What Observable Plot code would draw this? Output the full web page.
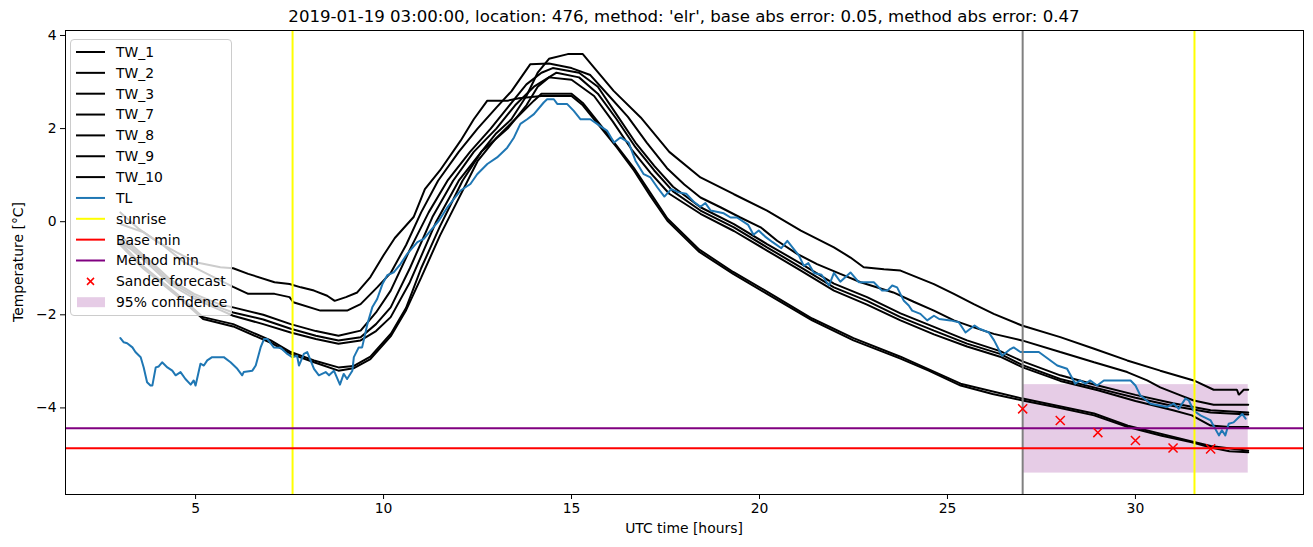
<!DOCTYPE html>
<html>
<head>
<meta charset="utf-8">
<script src="https://cdn.jsdelivr.net/npm/d3@7"></script>
<script src="https://cdn.jsdelivr.net/npm/@observablehq/plot@0.6"></script>
<style>
  body { margin: 0; background: #fff; font-family: "DejaVu Sans", sans-serif; }
  #wrap { position: relative; width: 1313px; height: 547px; overflow: hidden; background: #fff; }
  #title { position: absolute; left: 65px; width: 1238px; top: 7px; text-align: center; font-size: 16.6px; color: #000; white-space: nowrap; }
  #xlabel { position: absolute; left: 65px; width: 1238px; top: 520px; text-align: center; font-size: 13.9px; }
  #ylabel { position: absolute; left: 18px; top: 262px; transform: translate(-50%, -50%) rotate(-90deg); font-size: 13.9px; white-space: nowrap; }
  #legend { position: absolute; left: 70px; top: 39px; width: 162px; height: 277px; border: 1px solid #cccccc; border-radius: 4px; background: rgba(255,255,255,0.8); box-sizing: border-box; }
  #legend svg { position: absolute; left: 0; top: 0; }
</style>
</head>
<body>
<div id="wrap">
  <div id="chart"></div>
  <div id="title"></div>
  <div id="xlabel"></div>
  <div id="ylabel"></div>
  <div id="legend"></div>
</div>
<script>
// ---------- data ----------
const titleText = "2019-01-19 03:00:00, location: 476, method: 'elr', base abs error: 0.05, method abs error: 0.47";
const xLabel = "UTC time [hours]";
const yLabel = "Temperature [°C]";
const xTicks = [5, 10, 15, 20, 25, 30];
const yTicks = [-4, -2, 0, 2, 4];

const TW_1 = [[3,0.2],[3.5,-0.16],[4,-0.44],[4.5,-0.66],[5,-0.87],[5.66,-0.98],[6,-1.0],[6.4,-1.12],[7.1,-1.3],[7.5,-1.34],[7.8,-1.41],[8.15,-1.48],[8.5,-1.59],[8.7,-1.7],[9.0,-1.62],[9.3,-1.52],[9.65,-1.19],[10.0,-0.72],[10.3,-0.35],[10.8,0.1],[11.1,0.7],[11.5,1.1],[12.05,1.74],[12.4,2.2],[12.76,2.6],[13.3,2.6],[13.6,2.65],[14.2,2.7],[15.0,2.7],[15.3,2.5],[15.8,2.0],[16.2,1.6],[16.66,1.1],[17.1,0.55],[17.55,0.02],[18.4,-0.65],[19.3,-1.12],[20.2,-1.55],[21.4,-2.12],[22.5,-2.55],[23.75,-2.94],[24.5,-3.2],[25.35,-3.52],[26.2,-3.7],[27,-3.84],[28,-4.0],[28.9,-4.16],[29.8,-4.41],[30.7,-4.6],[31.5,-4.74],[32,-4.85],[32.5,-4.93],[33,-4.95]];
const TW_2 = [[3,-0.05],[3.62,-0.23],[4.16,-0.52],[4.69,-0.87],[5.4,-1.16],[6.0,-1.4],[6.4,-1.55],[7.1,-1.55],[7.5,-1.62],[7.6,-1.73],[8.32,-1.91],[9.03,-1.91],[9.39,-1.77],[9.83,-1.41],[10.19,-1.1],[10.6,-0.5],[11.0,0.2],[11.45,0.88],[12.0,1.5],[12.5,2.0],[13.0,2.45],[13.4,2.8],[13.9,3.38],[14.4,3.4],[15.0,3.3],[15.5,3.15],[16.0,2.7],[16.5,2.25],[17.0,1.7],[17.54,1.15],[18.0,0.8],[18.43,0.52],[18.96,0.31],[19.49,0.09],[20.03,-0.12],[20.47,-0.41],[21.0,-0.69],[21.53,-0.91],[22.15,-1.12],[22.69,-1.3],[23.56,-1.52],[24.1,-1.72],[24.64,-1.91],[25.17,-2.12],[25.7,-2.27],[26.23,-2.41],[26.98,-2.55],[28.0,-2.8],[28.9,-3.02],[29.78,-3.23],[30.31,-3.41],[30.66,-3.56],[31.2,-3.73],[31.55,-3.84],[32.08,-3.93],[33,-3.93]];
const TW_3 = [[3,-0.3],[3.3,-0.5],[3.8,-0.85],[4.34,-1.25],[4.96,-1.55],[5.66,-1.78],[6,-1.84],[6.8,-2.0],[7.53,-2.2],[8.2,-2.35],[8.8,-2.45],[9.39,-2.34],[9.8,-1.95],[10.19,-1.48],[10.7,-0.6],[11.2,0.2],[11.7,0.88],[12.3,1.5],[12.85,2.0],[13.3,2.45],[13.8,2.95],[14.2,3.2],[14.5,3.3],[15.2,3.2],[15.7,2.9],[16.2,2.3],[16.7,1.7],[17.2,1.2],[17.7,0.75],[18.43,0.31],[19.32,-0.05],[20.2,-0.48],[21.1,-0.9],[21.98,-1.33],[22.86,-1.62],[23.75,-1.97],[24.64,-2.26],[25.52,-2.55],[26.4,-2.78],[27,-3.0],[28,-3.3],[29,-3.52],[30,-3.72],[31,-3.9],[32,-4.05],[33,-4.1]];
const TW_7 = [[3,-0.4],[3.3,-0.55],[3.8,-0.9],[4.34,-1.3],[4.96,-1.6],[5.66,-1.85],[6,-1.95],[6.8,-2.1],[7.53,-2.3],[8.2,-2.45],[8.8,-2.55],[9.39,-2.48],[9.8,-2.2],[10.19,-1.84],[10.7,-1.0],[11.3,0.1],[11.85,0.88],[12.4,1.5],[13.0,2.0],[13.5,2.5],[14.0,2.9],[14.6,3.2],[15.2,3.1],[15.7,2.75],[16.2,2.2],[16.7,1.6],[17.2,1.1],[17.7,0.65],[18.43,0.24],[19.32,-0.12],[20.2,-0.55],[21.1,-0.98],[21.98,-1.41],[22.86,-1.7],[23.75,-2.05],[24.64,-2.34],[25.52,-2.62],[26.4,-2.84],[27,-3.08],[28,-3.38],[29,-3.58],[30,-3.78],[31,-3.96],[32,-4.1],[33,-4.14]];
const TW_8 = [[3,-0.45],[3.3,-0.6],[3.8,-0.95],[4.34,-1.35],[4.96,-1.65],[5.66,-1.9],[6,-2.02],[6.8,-2.2],[7.53,-2.38],[8.2,-2.52],[8.8,-2.62],[9.39,-2.55],[9.8,-2.35],[10.19,-2.05],[10.7,-1.3],[11.4,0.0],[12.0,0.88],[12.6,1.5],[13.3,2.0],[13.8,2.5],[14.1,2.9],[14.4,3.1],[15.0,3.05],[15.6,2.7],[16.1,2.15],[16.6,1.55],[17.1,1.05],[17.6,0.6],[18.43,0.17],[19.32,-0.2],[20.2,-0.62],[21.1,-1.05],[21.98,-1.48],[22.86,-1.78],[23.75,-2.12],[24.64,-2.42],[25.52,-2.68],[26.4,-2.9],[27,-3.13],[28,-3.42],[29,-3.62],[30,-3.85],[31,-4.05],[31.5,-4.16],[32,-4.38],[32.5,-4.41],[33,-4.41]];
const TW_9 = [[3,-0.45],[3.6,-0.95],[4.5,-1.55],[5.2,-2.05],[6,-2.2],[7,-2.55],[7.53,-2.8],[8.15,-2.98],[8.8,-3.13],[9.2,-3.1],[9.65,-2.9],[10.2,-2.4],[10.6,-1.85],[11.0,-1.0],[11.5,-0.1],[12.1,0.88],[12.6,1.5],[13.0,1.9],[13.4,2.2],[13.8,2.7],[14.1,3.2],[14.4,3.5],[14.9,3.6],[15.3,3.6],[15.6,3.31],[16.12,2.81],[16.84,2.24],[17.6,1.5],[18.43,0.95],[19.32,0.59],[20.2,0.24],[21.1,-0.19],[21.98,-0.55],[22.42,-0.77],[22.77,-0.98],[23.31,-1.02],[23.75,-1.05],[24.64,-1.34],[25.17,-1.55],[25.7,-1.77],[26.23,-1.98],[26.98,-2.23],[28.0,-2.48],[28.9,-2.73],[29.78,-2.98],[30.66,-3.2],[31.55,-3.41],[32.08,-3.61],[32.7,-3.61],[32.75,-3.72],[32.88,-3.61],[33,-3.61]];
const TW_10 = [[3,-0.5],[3.6,-1.0],[4.5,-1.59],[5.2,-2.09],[6,-2.25],[7,-2.6],[7.53,-2.84],[8.15,-3.02],[8.8,-3.2],[9.2,-3.15],[9.65,-2.95],[10.2,-2.45],[10.6,-1.9],[11.0,-1.2],[11.5,-0.3],[12.0,0.5],[12.5,1.3],[13.0,1.8],[13.5,2.2],[14.0,2.6],[14.2,2.75],[15.0,2.75],[15.3,2.55],[15.8,2.05],[16.66,1.15],[17.55,0.07],[18.4,-0.6],[19.3,-1.08],[20.2,-1.5],[21.4,-2.08],[22.5,-2.5],[23.75,-2.9],[25.35,-3.48],[27,-3.8],[28.9,-4.12],[29.8,-4.38],[31.5,-4.72],[32,-4.82],[33,-4.92]];

const tlHours = [3.00,3.09,3.18,3.32,3.40,3.54,3.62,3.71,3.80,3.85,3.94,4.02,4.11,4.25,4.38,4.47,4.60,4.73,4.87,4.95,5.00,5.13,5.22,5.31,5.44,5.75,5.93,6.11,6.24,6.28,6.51,6.60,6.73,6.82,6.91,7.08,7.26,7.44,7.57,7.70,7.75,7.88,7.97,8.15,8.28,8.46,8.55,8.68,8.84,8.94,9.03,9.17,9.21,9.34,9.43,9.57,9.70,9.83,9.97,10.10,10.27,10.45,10.63,10.90,11.07,11.25,11.47,11.69,12.05,12.31,12.49,12.76,13.02,13.29,13.47,13.64,13.82,14.00,14.26,14.35,14.53,14.62,14.88,15.06,15.24,15.50,15.68,15.95,16.13,16.30,16.52,16.70,16.92,17.10,17.28,17.47,17.65,17.85,18.05,18.25,18.43,18.56,18.70,19.05,19.23,19.40,19.70,19.84,19.98,20.15,20.35,20.58,20.74,21.05,21.18,21.30,21.45,21.65,21.85,21.98,22.15,22.42,22.64,23.04,23.26,23.40,23.53,23.66,23.84,23.97,24.06,24.28,24.46,24.64,24.78,25.08,25.30,25.48,25.72,25.85,26.10,26.24,26.45,26.65,26.76,26.94,27.43,27.92,28.18,28.40,28.53,28.67,28.80,28.98,29.16,29.87,30.00,30.13,30.40,30.84,31.02,31.15,31.33,31.42,31.55,31.73,32.00,32.22,32.30,32.39,32.48,32.61,32.75,32.84,32.93];
const tlValues = [-2.50,-2.59,-2.61,-2.70,-2.80,-2.91,-3.13,-3.45,-3.52,-3.52,-3.13,-3.11,-3.02,-3.13,-3.20,-3.30,-3.23,-3.38,-3.50,-3.41,-3.52,-3.05,-3.09,-2.98,-2.91,-2.91,-3.02,-3.16,-3.30,-3.23,-3.20,-3.09,-2.70,-2.52,-2.52,-2.70,-2.71,-2.84,-2.91,-2.88,-3.09,-2.84,-2.80,-3.16,-3.30,-3.23,-3.30,-3.20,-3.50,-3.27,-3.38,-3.20,-2.91,-2.70,-2.70,-2.20,-1.84,-1.66,-1.34,-1.15,-1.09,-0.91,-0.69,-0.44,-0.37,-0.19,0.02,0.30,0.67,0.81,1.02,1.24,1.38,1.59,1.81,2.10,2.20,2.31,2.56,2.63,2.63,2.53,2.53,2.38,2.20,2.20,2.10,1.95,1.70,1.81,1.70,1.31,1.02,0.95,0.74,0.54,0.70,0.63,0.60,0.43,0.32,0.40,0.24,0.18,0.09,0.09,-0.07,-0.28,-0.19,-0.32,-0.44,-0.57,-0.41,-0.73,-0.95,-0.89,-1.10,-1.14,-1.37,-1.10,-1.29,-1.09,-1.30,-1.30,-1.48,-1.48,-1.37,-1.41,-1.70,-1.80,-1.91,-1.98,-2.12,-2.02,-2.09,-2.12,-2.16,-2.38,-2.23,-2.30,-2.38,-2.55,-2.88,-2.75,-2.70,-2.80,-2.80,-3.09,-3.16,-3.48,-3.41,-3.48,-3.41,-3.52,-3.41,-3.41,-3.52,-3.73,-3.91,-3.98,-3.91,-4.02,-3.80,-3.84,-4.06,-4.16,-4.27,-4.59,-4.48,-4.59,-4.34,-4.31,-4.20,-4.13,-4.23];

const sunriseHours = [7.58, 31.57];
const forecastStart = 27;
const baseMin = -4.865;
const methodMin = -4.435;
const sanderHours = [27, 28, 29, 30, 31, 32];
const sanderValues = [-4.02, -4.27, -4.53, -4.70, -4.86, -4.88];
const confStart = 27, confEnd = 33, confLow = -5.40, confHigh = -3.50;

const twSeries = {TW_1, TW_2, TW_3, TW_7, TW_8, TW_9, TW_10};

// ---------- build tables ----------
const twRows = [];
for (const [name, pts] of Object.entries(twSeries)) {
  for (const [h, v] of pts) twRows.push({series: name, h, v});
}
const tlRows = tlHours.map((h, i) => ({h, v: tlValues[i]}));
const sanderRows = sanderHours.map((h, i) => ({h, v: sanderValues[i]}));
const confRows = [{x1: confStart, x2: confEnd, y1: confLow, y2: confHigh}];

const chart = Plot.plot({
  width: 1313,
  height: 547,
  marginLeft: 65,
  marginRight: 10,
  marginTop: 30,
  marginBottom: 53,
  style: {fontFamily: "DejaVu Sans", fontSize: "13.9px", color: "black", background: "white", overflow: "visible"},
  x: {domain: [1.54, 34.47]},
  y: {domain: [-5.86, 4.107]},
  marks: [
    Plot.rect(confRows, {x1: "x1", x2: "x2", y1: "y1", y2: "y2", fill: "purple", fillOpacity: 0.2}),
    Plot.line(twRows, {x: "h", y: "v", z: "series", stroke: "black", strokeWidth: 2, strokeLinejoin: "miter"}),
    Plot.line(tlRows, {x: "h", y: "v", stroke: "#1f77b4", strokeWidth: 2}),
    Plot.ruleX([forecastStart], {stroke: "gray", strokeWidth: 2}),
    Plot.ruleX(sunriseHours, {stroke: "yellow", strokeWidth: 2}),
    Plot.ruleY([baseMin], {stroke: "red", strokeWidth: 2}),
    Plot.ruleY([methodMin], {stroke: "purple", strokeWidth: 2}),
    Plot.dot(sanderRows, {x: "h", y: "v", symbol: "times", r: 4.2, stroke: "red", strokeWidth: 1.5}),
    Plot.frame({stroke: "black", strokeWidth: 1}),
    Plot.axisX({ticks: xTicks, tickSize: 5, tickPadding: 4, label: null, tickFormat: d => String(d)}),
    Plot.axisY({ticks: yTicks, tickSize: 5, tickPadding: 4, label: null})
  ]
});
document.getElementById("chart").appendChild(chart);

document.getElementById("title").textContent = titleText;
document.getElementById("xlabel").textContent = xLabel;
document.getElementById("ylabel").textContent = yLabel;

// ---------- legend ----------
const legendItems = [
  {label: "TW_1", kind: "line", color: "black"},
  {label: "TW_2", kind: "line", color: "black"},
  {label: "TW_3", kind: "line", color: "black"},
  {label: "TW_7", kind: "line", color: "black"},
  {label: "TW_8", kind: "line", color: "black"},
  {label: "TW_9", kind: "line", color: "black"},
  {label: "TW_10", kind: "line", color: "black"},
  {label: "TL", kind: "line", color: "#1f77b4"},
  {label: "sunrise", kind: "line", color: "yellow"},
  {label: "Base min", kind: "line", color: "red"},
  {label: "Method min", kind: "line", color: "purple"},
  {label: "Sander forecast", kind: "x", color: "red"},
  {label: "95% confidence", kind: "patch", color: "purple"}
];
const lsvg = d3.create("svg").attr("width", 162).attr("height", 277)
  .style("font-family", "DejaVu Sans").style("font-size", "13.9px");
legendItems.forEach((it, i) => {
  const cy = 12 + i * 20.85;
  const g = lsvg.append("g");
  if (it.kind === "line") {
    g.append("line").attr("x1", 5).attr("x2", 34).attr("y1", cy).attr("y2", cy)
      .attr("stroke", it.color).attr("stroke-width", 2);
  } else if (it.kind === "x") {
    g.append("path").attr("d", `M${19.5-3.5},${cy-3.5}L${19.5+3.5},${cy+3.5}M${19.5-3.5},${cy+3.5}L${19.5+3.5},${cy-3.5}`)
      .attr("stroke", it.color).attr("stroke-width", 1.5);
  } else {
    g.append("rect").attr("x", 6).attr("y", cy - 5).attr("width", 28).attr("height", 10)
      .attr("fill", it.color).attr("fill-opacity", 0.2);
  }
  g.append("text").attr("x", 45).attr("y", cy).attr("dy", "0.35em").attr("fill", "black").text(it.label);
});
document.getElementById("legend").appendChild(lsvg.node());
</script>
</body>
</html>
